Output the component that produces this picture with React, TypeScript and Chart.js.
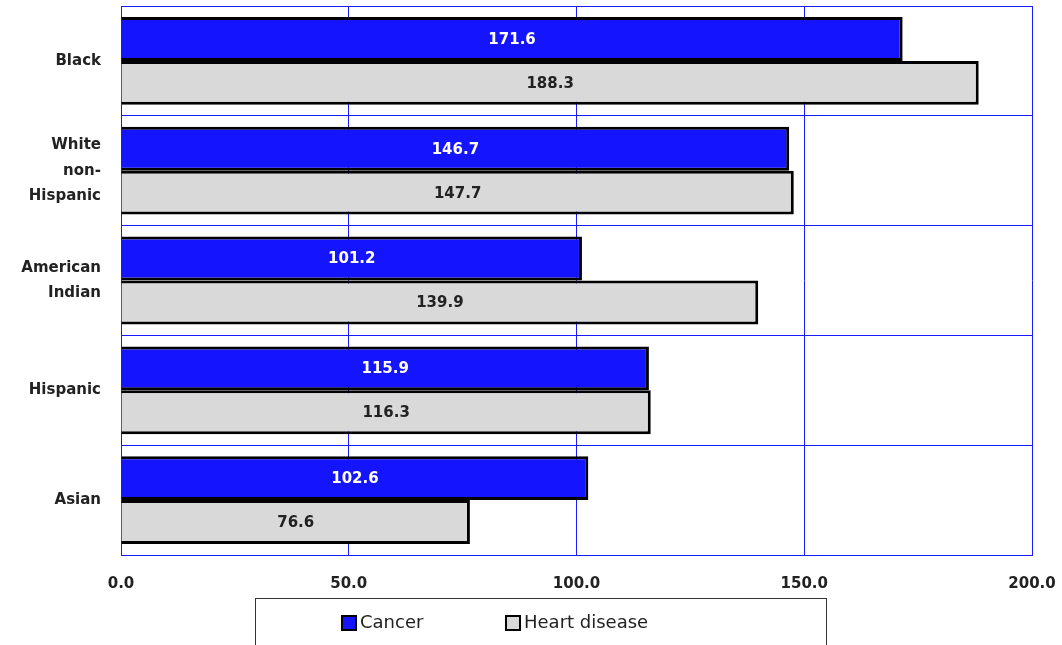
import React, { useEffect, useRef } from "react";
import { Chart, registerables } from "chart.js";

Chart.register(...registerables);

const categories: (string | string[])[] = ["Black", ["White", "non-", "Hispanic"], ["American", "Indian"], "Hispanic", "Asian"];
const cancerValues = [171.6, 146.7, 101.2, 115.9, 102.6];
const heartValues = [188.3, 147.7, 139.9, 116.3, 76.6];
const seriesLabels = ["Cancer", "Heart disease"];
const xMin = 0;
const xMax = 200;
const xStep = 50;

const FONT = "'DejaVu Sans', 'Liberation Sans', sans-serif";

const valueLabelPlugin = {
  id: "valueLabels",
  afterDatasetsDraw(chart: any) {
    const ctx = chart.ctx;
    ctx.save();
    ctx.font = `bold 15px ${FONT}`;
    ctx.textAlign = "center";
    ctx.textBaseline = "middle";
    chart.data.datasets.forEach((ds: any, di: number) => {
      const meta = chart.getDatasetMeta(di);
      meta.data.forEach((bar: any, i: number) => {
        const v = ds.data[i];
        const cx = (bar.x + bar.base) / 2;
        ctx.fillStyle = di === 0 ? "#ffffff" : "#222222";
        ctx.fillText(v.toFixed(1), cx, bar.y + 1);
      });
    });
    ctx.restore();
  },
};

const legendBoxPlugin = {
  id: "legendBox",
  afterDraw(chart: any) {
    const ctx = chart.ctx;
    ctx.save();
    ctx.strokeStyle = "#333333";
    ctx.lineWidth = 1;
    ctx.strokeRect(255.5, 598.5, 571, 60);
    ctx.font = `18px ${FONT}`;
    ctx.textBaseline = "middle";
    ctx.textAlign = "left";
    const items = [
      { x: 342, ds: chart.data.datasets[0] },
      { x: 506, ds: chart.data.datasets[1] },
    ];
    const cy = 623;
    items.forEach((it) => {
      ctx.fillStyle = it.ds.backgroundColor;
      ctx.fillRect(it.x, cy - 7, 14, 14);
      ctx.strokeStyle = "#000000";
      ctx.lineWidth = 2;
      ctx.strokeRect(it.x, cy - 7, 14, 14);
      ctx.fillStyle = "#222222";
      ctx.fillText(it.ds.label, it.x + 18, cy);
    });
    ctx.restore();
  },
};

export default function App() {
  const ref = useRef<HTMLCanvasElement | null>(null);
  useEffect(() => {
    document.body.style.margin = "0";
    const chart = new Chart(ref.current!, {
      type: "bar",
      data: {
        labels: categories as any,
        datasets: [
          {
            label: seriesLabels[0],
            data: cancerValues,
            backgroundColor: "#1414FF",
            borderColor: "#000000",
            borderWidth: 3,
            categoryPercentage: 0.8,
            barPercentage: 1.0,
          },
          {
            label: seriesLabels[1],
            data: heartValues,
            backgroundColor: "#D9D9D9",
            borderColor: "#000000",
            borderWidth: 3,
            categoryPercentage: 0.8,
            barPercentage: 1.0,
          },
        ],
      },
      options: {
        indexAxis: "y",
        animation: false,
        responsive: false,
        maintainAspectRatio: false,
        layout: { padding: { top: 6, right: 30, left: 0, bottom: 0 } },
        plugins: { legend: { display: false }, tooltip: { enabled: false } },
        scales: {
          x: {
            min: xMin,
            max: xMax,
            ticks: {
              stepSize: xStep,
              padding: 20,
              color: "#222222",
              font: { family: FONT, size: 15, weight: "bold" },
              callback: (v: any) => Number(v).toFixed(1),
            },
            grid: { color: "#1a1aff", lineWidth: 1, drawTicks: false },
            border: { color: "#1a1aff", width: 1 },
            afterFit: (s: any) => {
              s.height = 90;
              s.paddingLeft = 0;
              s.paddingRight = 0;
            },
          },
          y: {
            ticks: {
              padding: 20,
              color: "#222222",
              font: { family: FONT, size: 15, weight: "bold", lineHeight: 1.7 },
            },
            grid: { color: "#1a1aff", lineWidth: 1, drawTicks: false, offset: true },
            border: { color: "#1a1aff", width: 1 },
            afterFit: (s: any) => {
              s.width = 121;
              s.paddingTop = 0;
              s.paddingBottom = 0;
            },
          },
        },
      } as any,
      plugins: [valueLabelPlugin, legendBoxPlugin],
    });
    return () => chart.destroy();
  }, []);
  return (
    <div style={{ position: "fixed", left: 0, top: 0, width: 1062, height: 645, background: "#fff" }}>
      <canvas ref={ref} width={1062} height={645} style={{ width: 1062, height: 645 }} />
    </div>
  );
}
